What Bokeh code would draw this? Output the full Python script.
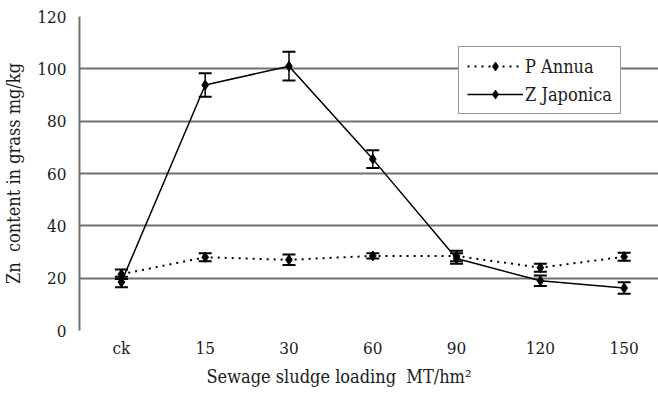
from bokeh.plotting import figure
from bokeh.models import ColumnDataSource, Whisker, TeeHead, FixedTicker, Legend, LegendItem, Range1d, Title
from bokeh.embed import file_html
from bokeh.resources import INLINE

categories = ["ck", "15", "30", "60", "90", "120", "150"]
p_annua = [21.5, 28.0, 27.0, 28.5, 28.5, 24.0, 28.2]
p_annua_err = [1.8, 1.5, 2.0, 1.0, 2.0, 1.5, 1.5]
z_japonica = [18.5, 93.8, 101.0, 65.5, 27.5, 19.0, 16.2]
z_japonica_err = [2.0, 4.5, 5.5, 3.4, 2.0, 2.0, 2.2]
y_ticks = [0, 20, 40, 60, 80, 100, 120]
x_title = "Sewage sludge loading\u00a0\u00a0MT/hm\u00b2"
y_title = "Zn\u00a0\u00a0content in grass mg/kg"

FONT = "DejaVu Serif Condensed"
TXT = "#1a1a1a"
xs = list(range(len(categories)))

p = figure(width=658, height=395, output_backend="svg", toolbar_location=None,
           x_range=Range1d(-0.5, 6.41), y_range=Range1d(0, 120),
           min_border_left=79, min_border_top=16, min_border_bottom=65, min_border_right=0)
p.outline_line_color = None
p.background_fill_color = "white"

# axes
p.xaxis.ticker = FixedTicker(ticks=xs)
p.xaxis.major_label_overrides = {i: c for i, c in enumerate(categories)}
p.xaxis.axis_line_color = None
p.xaxis.major_tick_line_color = None
p.xaxis.minor_tick_line_color = None
p.xaxis.major_label_text_font = FONT
p.xaxis.major_label_text_font_size = "17px"
p.xaxis.major_label_text_color = TXT
p.xaxis.major_label_standoff = 1

p.yaxis.ticker = FixedTicker(ticks=y_ticks)
p.yaxis.axis_line_color = "#707070"
p.yaxis.axis_line_width = 2
p.yaxis.major_tick_line_color = None
p.yaxis.minor_tick_line_color = None
p.yaxis.major_label_text_font = FONT
p.yaxis.major_label_text_font_size = "17px"
p.yaxis.major_label_text_color = TXT
p.yaxis.major_label_standoff = 7
p.yaxis.axis_label = y_title
p.yaxis.axis_label_text_font = FONT
p.yaxis.axis_label_text_font_style = "normal"
p.yaxis.axis_label_text_font_size = "18px"
p.yaxis.axis_label_text_color = TXT
p.yaxis.axis_label_standoff = 10

p.xgrid.grid_line_color = None
p.ygrid.ticker = FixedTicker(ticks=y_ticks)
p.ygrid.grid_line_color = "#707070"
p.ygrid.grid_line_width = 2

# x title, placed left of the frame centre as in the original
p.add_layout(Title(text=x_title, align="left", offset=127, text_font=FONT,
                   text_font_size="18px", text_font_style="normal", text_color=TXT,
                   standoff=6), "below")

src_p = ColumnDataSource(dict(x=xs, y=p_annua,
                              lo=[v - e for v, e in zip(p_annua, p_annua_err)],
                              hi=[v + e for v, e in zip(p_annua, p_annua_err)]))
src_z = ColumnDataSource(dict(x=xs, y=z_japonica,
                              lo=[v - e for v, e in zip(z_japonica, z_japonica_err)],
                              hi=[v + e for v, e in zip(z_japonica, z_japonica_err)]))

for src in (src_p, src_z):
    w = Whisker(source=src, base="x", lower="lo", upper="hi", line_color="black", line_width=1.5,
                upper_head=TeeHead(size=13, line_color="black", line_width=2),
                lower_head=TeeHead(size=13, line_color="black", line_width=2))
    p.add_layout(w)

lp = p.line("x", "y", source=src_p, line_color="black", line_width=2, line_dash="2 5")
mp = p.scatter("x", "y", source=src_p, marker="diamond", size=10, color="black")
lz = p.line("x", "y", source=src_z, line_color="black", line_width=1.5)
mz = p.scatter("x", "y", source=src_z, marker="diamond", size=10, color="black")

legend = Legend(items=[LegendItem(label="P Annua", renderers=[lp, mp]),
                       LegendItem(label="Z Japonica", renderers=[lz, mz])],
                location=(379, 216))
legend.label_text_font = FONT
legend.label_text_font_size = "18px"
legend.label_text_color = TXT
legend.glyph_width = 56
legend.glyph_height = 22
legend.label_height = 22
legend.label_standoff = 2
legend.spacing = 6
legend.padding = 8
legend.margin = 0
legend.border_line_color = "#333333"
legend.border_line_width = 1.5
legend.background_fill_alpha = 1
p.add_layout(legend)

open("out.html", "w").write(file_html(p, INLINE))
